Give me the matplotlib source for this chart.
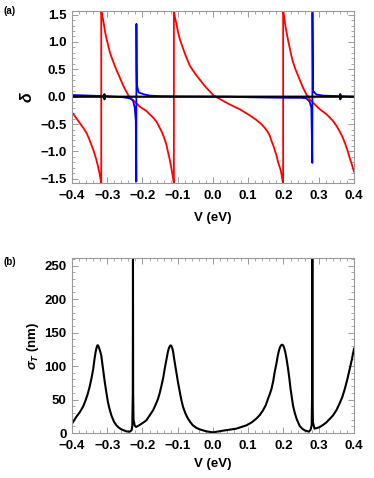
import matplotlib
matplotlib.use("Agg")
import matplotlib.pyplot as plt
from matplotlib.ticker import MultipleLocator

# ---- panel (a): phase shifts ----
red_v = [-0.400, -0.397, -0.388, -0.378, -0.368, -0.359, -0.352, -0.345, -0.338,
         -0.331, -0.326, -0.321, -0.317,
         -0.317, -0.314, -0.310, -0.306, -0.302, -0.297, -0.293, -0.286, -0.279,
         -0.272, -0.265, -0.258, -0.250, -0.238, -0.222,
         -0.208, -0.199, -0.189, -0.180, -0.170, -0.160, -0.151, -0.144, -0.137,
         -0.132, -0.128, -0.123, -0.118, -0.115, -0.113, -0.111,
         -0.111, -0.108, -0.104, -0.0995, -0.0945, -0.087, -0.080, -0.073, -0.066,
         -0.057, -0.047, -0.036, -0.024, -0.011, 0.002, 0.024, 0.047,
         0.076, 0.104, 0.122, 0.137, 0.147, 0.155, 0.161, 0.166, 0.171, 0.175,
         0.180, 0.184, 0.188, 0.192, 0.195, 0.197, 0.199,
         0.199, 0.201, 0.203, 0.206, 0.210, 0.214, 0.218, 0.222, 0.227, 0.234,
         0.241, 0.248, 0.255, 0.265, 0.275, 0.284,
         0.303, 0.322, 0.340, 0.350, 0.359, 0.367, 0.374, 0.381, 0.388, 0.394, 0.400]
red_d = [-0.29, -0.31, -0.39, -0.48, -0.57, -0.66, -0.76, -0.88, -1.00,
         -1.15, -1.28, -1.43, -1.58,
         1.58, 1.48, 1.34, 1.18, 1.06, 0.93, 0.82, 0.69, 0.57,
         0.46, 0.36, 0.25, 0.14, 0.0, -0.09,
         -0.18, -0.22, -0.26, -0.32, -0.38, -0.46, -0.57, -0.66, -0.78,
         -0.88, -1.0, -1.14, -1.31, -1.42, -1.50, -1.58,
         1.58, 1.45, 1.34, 1.19, 1.06, 0.92, 0.79, 0.68, 0.57,
         0.48, 0.39, 0.30, 0.20, 0.11, 0.02, -0.06, -0.14,
         -0.23, -0.34, -0.42, -0.50, -0.57, -0.64, -0.71, -0.81, -0.89, -0.97,
         -1.07, -1.18, -1.26, -1.34, -1.44, -1.52, -1.58,
         1.58, 1.49, 1.40, 1.27, 1.13, 1.00, 0.88, 0.76, 0.63, 0.50,
         0.39, 0.28, 0.17, 0.04, -0.05, -0.11,
         -0.23, -0.32, -0.44, -0.53, -0.63, -0.73, -0.84, -0.97, -1.12, -1.24, -1.37]

blue_v = [-0.400, -0.350, -0.300, -0.255, -0.236, -0.227, -0.222, -0.219,
          -0.2175, -0.2172, -0.2165, -0.2160, -0.2145, -0.211, -0.208, -0.194,
          -0.179, -0.150, -0.100, 0.050, 0.100, 0.200, 0.250, 0.265, 0.274,
          0.279, 0.2818, 0.2822, 0.2837, 0.293, 0.312, 0.359, 0.400]
blue_d = [0.03, 0.02, 0.01, -0.01, -0.03, -0.07, -0.20, -0.45,
          -1.55, 1.33, 0.50, 0.25, 0.17, 0.08, 0.07, 0.04,
          0.02, 0.01, 0.005, 0.0, -0.01, -0.02, -0.02, -0.03, -0.09,
          -0.20, -1.21, 1.54, 0.11, 0.04, 0.02, 0.01, 0.0]

black_v = [-0.400, -0.309, -0.308, -0.308, -0.307, 0.360, 0.361, 0.361, 0.362, 0.400]
black_d = [0.0, 0.0, 0.045, -0.045, 0.0, 0.0, 0.045, -0.045, 0.0, 0.0]

# ---- panel (b): total cross section ----
sig_v = [-0.400, -0.388, -0.378, -0.369, -0.362, -0.355, -0.350, -0.345, -0.340,
         -0.336, -0.333, -0.330, -0.328, -0.326, -0.323, -0.320, -0.317, -0.312,
         -0.307, -0.302, -0.298, -0.293, -0.288, -0.281, -0.274, -0.267, -0.260,
         -0.246, -0.236, -0.231,
         -0.229, -0.2275, -0.2270, -0.2265, -0.2255, -0.222, -0.218, -0.208,
         -0.194, -0.189, -0.180, -0.170, -0.163, -0.156, -0.151, -0.146, -0.141,
         -0.137, -0.132, -0.128, -0.125, -0.122, -0.120, -0.118, -0.115, -0.113,
         -0.109, -0.104, -0.099, -0.094, -0.090, -0.085, -0.078, -0.071, -0.064,
         -0.057, -0.048, -0.038, -0.019,
         0.000, 0.028, 0.066, 0.095, 0.110, 0.123, 0.133, 0.142, 0.150, 0.156,
         0.161, 0.166, 0.171, 0.175, 0.180, 0.184, 0.187, 0.190, 0.193, 0.196,
         0.199, 0.202, 0.205, 0.208, 0.213, 0.217, 0.220, 0.224, 0.227, 0.232,
         0.237, 0.246, 0.253, 0.260, 0.272, 0.277, 0.280, 0.2812, 0.2818,
         0.2824, 0.2835, 0.288, 0.295, 0.303, 0.312, 0.322, 0.331, 0.340, 0.350,
         0.359, 0.367, 0.374, 0.381, 0.388, 0.394, 0.400]
sig_t = [14, 24, 31, 39, 48, 59, 69, 81, 95,
         111, 121, 128, 131, 131, 127, 122, 116, 96,
         76, 59, 46, 35, 26, 17, 11.5, 8, 5.5,
         2.5, 2, 4,
         10, 60, 259, 60, 20, 11, 9, 12,
         17, 19, 26, 34, 42, 51, 60, 71, 83,
         96, 110, 121, 127, 130, 131, 130, 126, 121,
         107, 91, 75, 61, 50, 39, 29, 21.5, 16,
         11.5, 8, 5.5, 2.5,
         1, 3.5, 6.5, 11.5, 16, 21.5, 27, 34, 42, 51,
         58, 66, 78, 91, 104, 116, 123, 128, 131, 132,
         131, 127, 121, 113, 96, 80, 66, 52, 41, 30,
         21.5, 10.5, 6.5, 4, 2, 5, 12, 60, 300,
         60, 16, 6.5, 7.5, 9, 12, 16, 21, 26, 34,
         44, 54, 66, 80, 96, 110, 126]

plt.rcParams["font.family"] = ["Liberation Sans", "DejaVu Sans"]
plt.rcParams["font.weight"] = "bold"
plt.rcParams["mathtext.fontset"] = "custom"
plt.rcParams["mathtext.rm"] = "Liberation Sans:bold"
plt.rcParams["mathtext.it"] = "Liberation Sans:italic:bold"
plt.rcParams["mathtext.bf"] = "Liberation Sans:bold"

frame_col = "#9a9a9a"
fsize = 9.5


def style_axes(ax):
    for sp in ax.spines.values():
        sp.set_color(frame_col)
        sp.set_linewidth(0.8)
    ax.tick_params(which="both", direction="in", top=True, right=True,
                   color=frame_col, labelsize=fsize)
    ax.tick_params(axis="y", pad=4)
    ax.tick_params(axis="x", pad=5)
    ax.tick_params(which="major", length=4, width=0.7)
    ax.tick_params(which="minor", length=2, width=0.6)
    ax.set_xlim(-0.4, 0.4)
    ax.xaxis.set_major_locator(MultipleLocator(0.1))
    ax.xaxis.set_minor_locator(MultipleLocator(0.02))
    for lab in ax.get_xticklabels() + ax.get_yticklabels():
        lab.set_fontweight("bold")


fig = plt.figure(figsize=(3.74, 4.78), dpi=100)
ax1 = fig.add_axes([0.1925, 0.6178, 0.754, 0.3598])
ax2 = fig.add_axes([0.1925, 0.0941, 0.754, 0.3668])

ax1.plot(red_v, red_d, color="#ff0000", lw=1.3)
ax1.plot(blue_v, blue_d, color="#0000ff", lw=1.3)
ax1.plot(black_v, black_d, color="black", lw=1.6)
ax1.set_ylim(-1.5708, 1.5708)
ax1.yaxis.set_major_locator(MultipleLocator(0.5))
ax1.yaxis.set_minor_locator(MultipleLocator(0.1))
style_axes(ax1)
ax1.set_xlabel("V (eV)", fontsize=fsize, fontweight="bold")
ax1.xaxis.set_label_coords(0.5, -0.17)
ax1.set_ylabel(r"$\delta$", fontsize=11.5)
ax1.yaxis.set_label_coords(-0.13, 0.5)

ax2.plot(sig_v, sig_t, color="black", lw=1.5)
ax2.set_ylim(0, 262)
ax2.yaxis.set_major_locator(MultipleLocator(50))
ax2.yaxis.set_minor_locator(MultipleLocator(10))
style_axes(ax2)
ax2.set_xlabel("V (eV)", fontsize=fsize, fontweight="bold")
ax2.xaxis.set_label_coords(0.5, -0.14)
ax2.set_ylabel(r"$\sigma_T$ (nm)", fontsize=fsize, fontweight="bold")
ax2.yaxis.set_label_coords(-0.11, 0.5)

fig.text(0.01, 0.977, "(a)", fontsize=7, fontweight="bold", va="center")
fig.text(0.01, 0.451, "(b)", fontsize=7, fontweight="bold", va="center")

fig.savefig("out.png", dpi=100)
plt.close(fig)
